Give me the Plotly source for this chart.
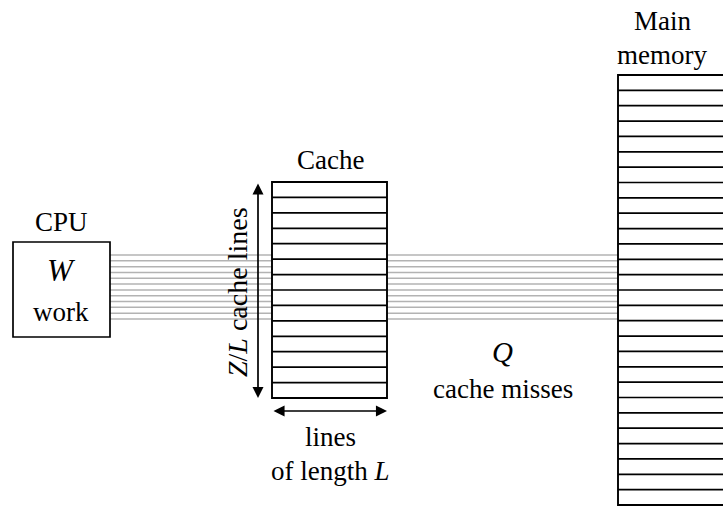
import plotly.graph_objects as go

# ---- diagram content ----
cache_rows = 14
memory_rows = 28
num_wires = 12
labels_cpu = ["CPU", "W", "work"]
labels_cache = ["Cache", "Z/L cache lines", "lines", "of length L"]
labels_misses = ["Q", "cache misses"]
labels_memory = ["Main", "memory"]

W, H = 723, 506
# geometry (pixels)
cpu = dict(x0=13, x1=110, y0=242, y1=337)
cache = dict(x0=272, x1=387, y0=182, y1=398)
mem = dict(x0=618, x1=740, y0=75, y1=505)
wire_top, wire_bot = 255, 319

FONT = "Liberation Serif, Times New Roman, serif"
FS = 27
fig = go.Figure()
shapes = []

def line(x0, y0, x1, y1, color="black", width=1.7):
    shapes.append(dict(type="line", x0=x0, y0=y0, x1=x1, y1=y1, xref="x", yref="y",
                       line=dict(color=color, width=width)))

# wires
for i in range(num_wires):
    y = wire_top + i * (wire_bot - wire_top) / (num_wires - 1)
    line(cpu["x1"], y, cache["x0"], y, color="#b3b3b3", width=1.5)
    line(cache["x1"], y, mem["x0"], y, color="#b3b3b3", width=1.5)

# CPU box
shapes.append(dict(type="rect", x0=cpu["x0"], x1=cpu["x1"], y0=cpu["y0"], y1=cpu["y1"],
                   xref="x", yref="y", line=dict(color="black", width=1.7), fillcolor="white"))
# cache box
shapes.append(dict(type="rect", x0=cache["x0"], x1=cache["x1"], y0=cache["y0"], y1=cache["y1"],
                   xref="x", yref="y", line=dict(color="black", width=1.9), fillcolor="white"))
rh = (cache["y1"] - cache["y0"]) / cache_rows
for i in range(1, cache_rows):
    line(cache["x0"], cache["y0"] + i * rh, cache["x1"], cache["y0"] + i * rh)
# memory box
shapes.append(dict(type="rect", x0=mem["x0"], x1=mem["x1"], y0=mem["y0"], y1=mem["y1"],
                   xref="x", yref="y", line=dict(color="black", width=1.9), fillcolor="white"))
mh = (mem["y1"] - mem["y0"]) / memory_rows
for i in range(1, memory_rows):
    line(mem["x0"], mem["y0"] + i * mh, mem["x1"], mem["y0"] + i * mh)

annotations = []

def text(x, y, s, size=FS, angle=0):
    annotations.append(dict(x=x, y=y, xref="x", yref="y", text=s, showarrow=False,
                            textangle=angle, font=dict(family=FONT, size=size, color="black"),
                            xanchor="center", yanchor="middle", borderpad=0))

def arrow(x0, y0, x1, y1):
    annotations.append(dict(x=x1, y=y1, ax=x0, ay=y0, xref="x", yref="y", axref="x", ayref="y",
                            text="", showarrow=True, arrowhead=2, arrowsize=1.3, arrowwidth=1.7,
                            arrowside="end+start", arrowcolor="black"))

text(61, 222, labels_cpu[0])
text(61, 270, "<i>" + labels_cpu[1] + "</i>", size=31)
text(61, 312, labels_cpu[2])

text(330, 160, labels_cache[0])
text(237, 292, "<i>Z</i>/<i>L</i> cache lines", size=28, angle=-90)
arrow(258, cache["y0"], 258, cache["y1"])
arrow(cache["x0"], 411, cache["x1"], 411)
text(330, 437, labels_cache[2])
text(330, 471, "of length <i>L</i>")

text(502, 352, "<i>" + labels_misses[0] + "</i>", size=29)
text(503, 389, labels_misses[1])

text(662, 21, labels_memory[0])
text(662, 55, labels_memory[1])

fig.update_layout(width=W, height=H, margin=dict(l=0, r=0, t=0, b=0),
                  plot_bgcolor="white", paper_bgcolor="white", showlegend=False,
                  shapes=shapes, annotations=annotations,
                  xaxis=dict(range=[0, W], visible=False, fixedrange=True),
                  yaxis=dict(range=[H, 0], visible=False, fixedrange=True))
fig.write_html("out.html", config={"displayModeBar": False, "staticPlot": True},
               post_script="document.body.style.margin='0';")
